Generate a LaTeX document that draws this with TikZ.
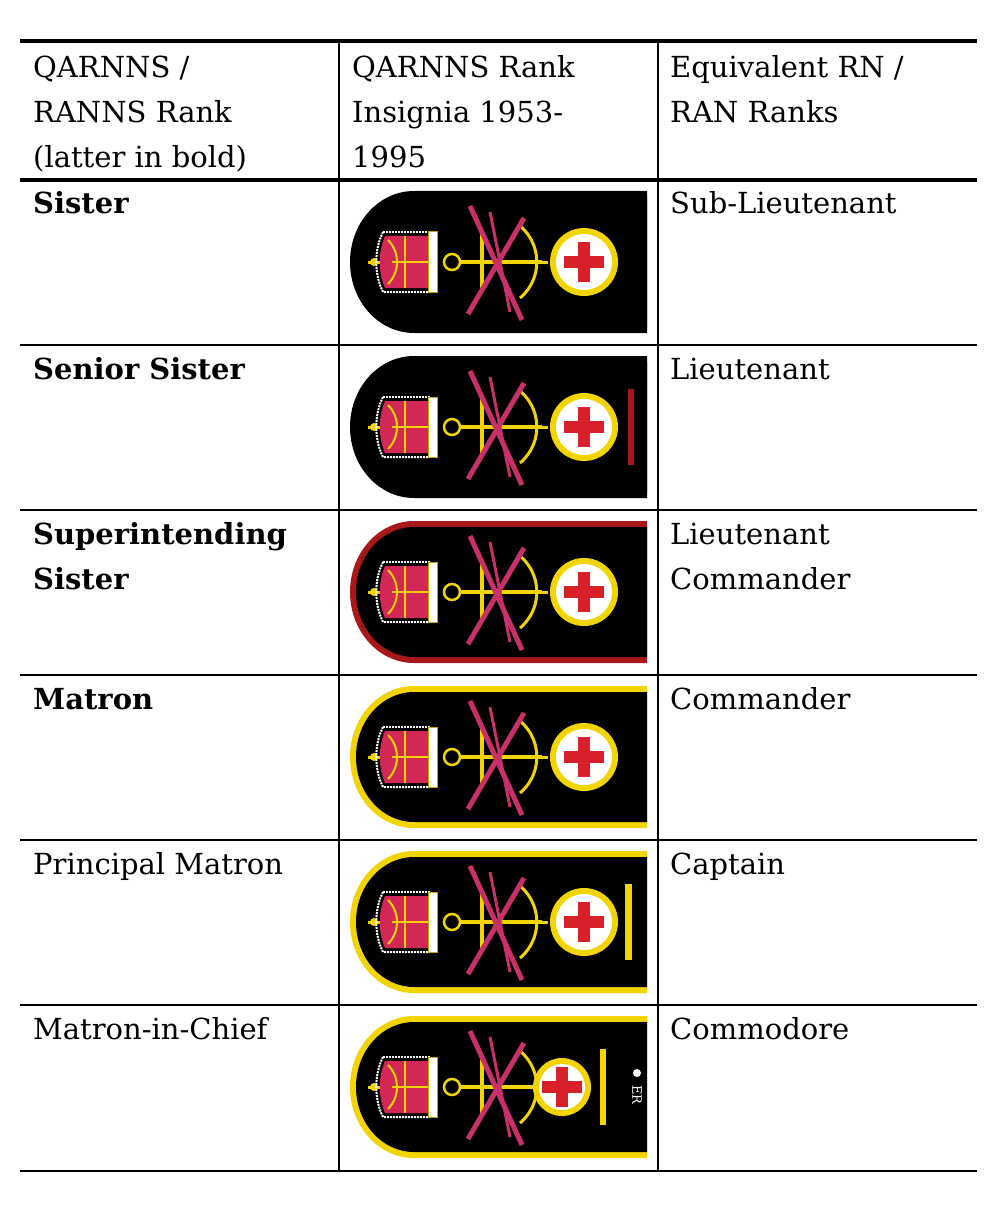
\documentclass[tikz,border=0pt]{standalone}
\usepackage{fontspec}
\setmainfont{DejaVu Serif}
\definecolor{gold}{HTML}{F2D500}
\definecolor{dred}{HTML}{A81818}
\definecolor{xred}{HTML}{D8202A}
\definecolor{pinkx}{HTML}{C8306A}
\newcommand{\badge}[5]{% #1 ycenter, #2 border color, #3 bar color, #4 circle x, #5 circle r
\begin{scope}[yshift=-#1pt]
\fill[#2] (647,71) -- (414,71) arc[start angle=90,end angle=270,x radius=64,y radius=71] -- (647,-71) -- cycle;
\fill[black] (647,65) -- (414,65) arc[start angle=90,end angle=270,x radius=58,y radius=65] -- (647,-65) -- cycle;
% crown
\draw[gold,line width=3] (368,0) -- (390,0);
\fill[gold] (374,0) circle (4);
\fill[pinkx!80!red] (385,-26) .. controls (378,-10) and (378,10) .. (385,26) -- (430,26) -- (430,-26) -- cycle;
\draw[white,densely dotted,line width=2] (383,-30) .. controls (374,-12) and (374,12) .. (383,30) -- (430,30);
\draw[white,densely dotted,line width=2] (383,-30) -- (430,-30);
\draw[gold,line width=2] (388,-22) .. controls (400,-10) and (400,10) .. (388,22);
\draw[gold,line width=2] (392,0) -- (428,0);
\draw[gold,line width=2] (405,-26) -- (405,26);
\fill[white] (428,-30) rectangle (437,30);
\draw[gold!80!black,line width=1] (428,-30) rectangle (437,30);
% anchor
\draw[gold,line width=2.5] (452,0) circle (8);
\draw[gold,line width=4] (460,0) -- (542,0);
\draw[gold,line width=4] (482,-28) -- (482,28);
\draw[gold,line width=3] (520,-36) arc[start angle=-50,end angle=50,radius=47];
\draw[gold,line width=3] (540,0) -- (548,0);
\draw[pinkx,line width=5] (470,-56) -- (522,58);
\draw[pinkx,line width=5] (524,-44) -- (468,52);
\draw[pinkx,line width=3] (490,-50) -- (510,50);
% circle
\fill[gold] (#4,0) circle (#5);
\fill[white] (#4,0) circle (#5-6);
\fill[xred] (#4-6,-20) rectangle (#4+6,20);
\fill[xred] (#4-20,-6) rectangle (#4+20,6);
#3
\end{scope}}
\begin{document}
\begin{tikzpicture}[x=1pt,y=-1pt,
  txt/.style={anchor=base west,inner sep=0,font=\fontsize{29}{45}\selectfont},
  btxt/.style={txt,font=\fontsize{29}{45}\selectfont\bfseries}]
\fill[white] (0,0) rectangle (999,1206);
\useasboundingbox (0,0) rectangle (999,1206);
% grid
\draw[line width=4] (20,41) -- (977,41);
\draw[line width=4] (20,180) -- (977,180);
\foreach \y in {345,510,675,840,1005,1171} \draw[line width=2] (20,\y) -- (977,\y);
\draw[line width=2] (339,41) -- (339,1171);
\draw[line width=2] (658,41) -- (658,1171);
% header
\node[txt] (h1a) at (33,78) {QARNNS /};
\node[txt] (h1b) at (33,123) {RANNS Rank};
\node[txt] (h1c) at (33,168) {(latter in bold)};
\node[txt] (h2a) at (352,78) {QARNNS Rank};
\node[txt] (h2b) at (352,123) {Insignia 1953-};
\node[txt] (h2c) at (352,168) {1995};
\node[txt] (h3a) at (670,78) {Equivalent RN /};
\node[txt] (h3b) at (670,123) {RAN Ranks};
% rows
\node[btxt] (r1) at (33,214) {Sister};
\node[btxt] (r2) at (33,379) {Senior Sister};
\node[btxt] (r3a) at (33,544) {Superintending};
\node[btxt] (r3b) at (33,589) {Sister};
\node[btxt] (r4) at (33,709) {Matron};
\node[txt] (r5) at (33,874) {Principal Matron};
\node[txt] (r6) at (33,1039) {Matron-in-Chief};
\node[txt] (e1) at (670,214) {Sub-Lieutenant};
\node[txt] (e2) at (670,379) {Lieutenant};
\node[txt] (e3a) at (670,544) {Lieutenant};
\node[txt] (e3b) at (670,589) {Commander};
\node[txt] (e4) at (670,709) {Commander};
\node[txt] (e5) at (670,874) {Captain};
\node[txt] (e6) at (670,1039) {Commodore};
% badges
\badge{262}{black}{}{584}{34}
\badge{427}{black}{\fill[dred] (628,-38) rectangle (634,38);}{584}{34}
\badge{592}{dred}{}{584}{34}
\badge{757}{gold}{}{584}{34}
\badge{922}{gold}{\fill[gold] (625,-38) rectangle (632,38);}{584}{34}
\badge{1087}{gold}{\fill[gold] (600,-38) rectangle (606,38);
  \node[white,rotate=-90,font=\fontsize{13}{13}\selectfont,inner sep=0] (er) at (637,8) {ER};
  \fill[white] (637,-14) circle (4);}{562}{29}
\end{tikzpicture}
\end{document}
